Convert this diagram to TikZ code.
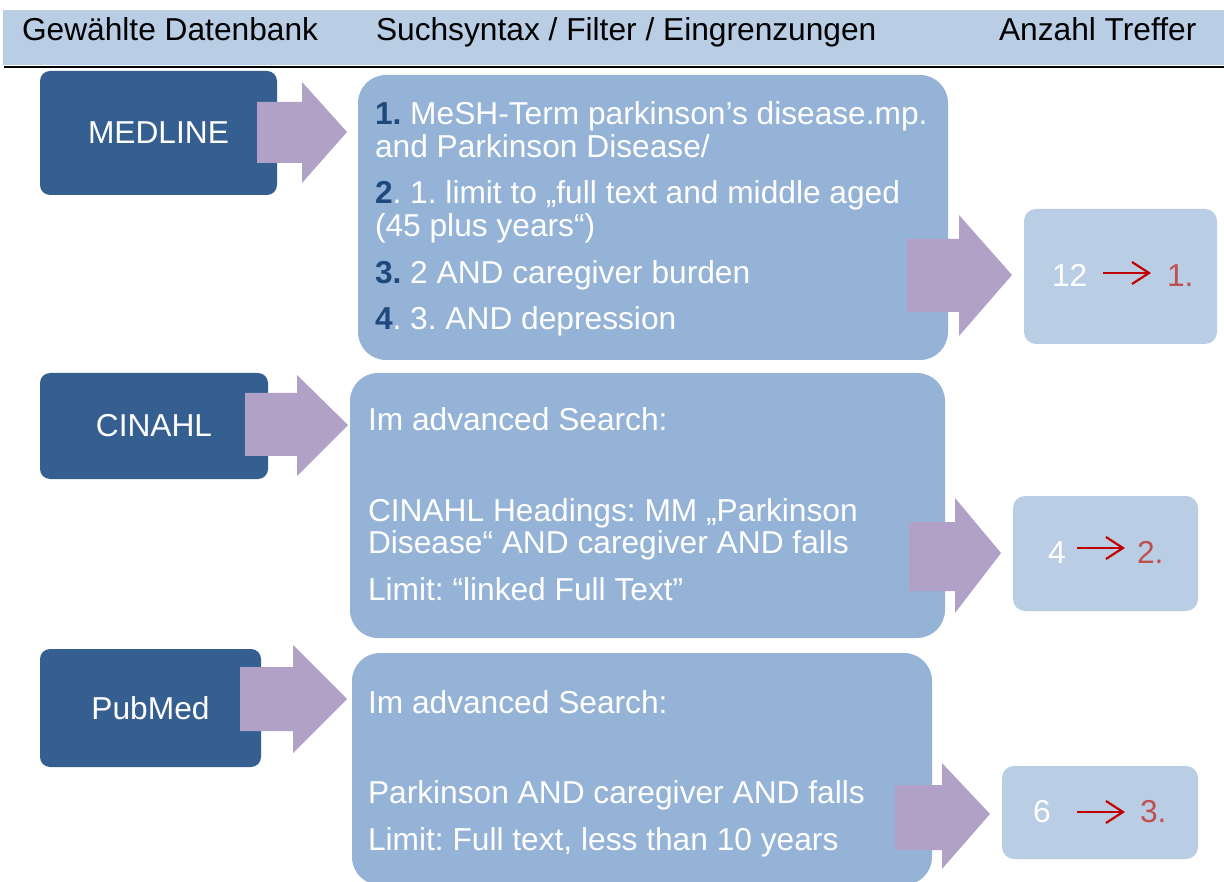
\documentclass[tikz,border=0pt]{standalone}
\usepackage{fontspec}
\setmainfont{Liberation Sans}
\usetikzlibrary{arrows.meta}
\definecolor{hdr}{HTML}{B9CDE5}
\definecolor{dbblue}{HTML}{365F91}
\definecolor{lav}{HTML}{B2A1C7}
\definecolor{qbox}{HTML}{95B3D7}
\definecolor{rbox}{HTML}{B9CDE5}
\definecolor{numblue}{HTML}{1F497D}
\definecolor{arrred}{HTML}{C00000}
\definecolor{resred}{HTML}{C0504D}
\newcommand{\nb}[1]{\textbf{\color{numblue}#1}}
\frenchspacing
\begin{document}
\begin{tikzpicture}[x=1pt,y=-1pt,
  txt/.style={anchor=base west, inner sep=0pt, outer sep=0pt, font=\fontsize{31.7}{36}\selectfont\frenchspacing, text=white},
  hdrtxt/.style={txt, text=black},
  dbbox/.style={fill=dbblue, rounded corners=10pt, inner sep=0pt, text=white, font=\fontsize{31.7}{36}\selectfont},
  qboxst/.style={fill=qbox, rounded corners=28pt, inner sep=0pt},
  rboxst/.style={fill=rbox, rounded corners=12pt, inner sep=0pt},
  blockarrow/.style={fill=lav},
  resarrow/.style={draw=arrred, line width=2.2pt, -{Straight Barb[length=17pt,width=22pt]}},
  restxt/.style={txt, text=resred}
]
\useasboundingbox (0,0) rectangle (1224,882);
\fill[white] (0,0) rectangle (1224,882);
% header
\fill[hdr] (3,10) rectangle (1224,65);
\draw[line width=2pt] (4,67) -- (1224,67);
\node[hdrtxt] (h1) at (22,41) {Gewählte Datenbank};
\node[hdrtxt] (h2) at (376,41) {Suchsyntax / Filter / Eingrenzungen};
\node[hdrtxt] (h3) at (999,41) {Anzahl Treffer};

% database boxes
\node[dbbox, minimum width=237pt, minimum height=124pt] (medline) at (158.5,133) {MEDLINE};
\node[dbbox, minimum width=228pt, minimum height=106pt] (cinahl) at (154,426) {CINAHL};
\node[dbbox, minimum width=221pt, minimum height=118pt] (pubmed) at (150.5,708) {PubMed};

% query boxes
\node[qboxst, minimum width=590pt, minimum height=285pt] (q1) at (653,217.5) {};
\node[qboxst, minimum width=595pt, minimum height=265pt] (q2) at (647.5,505.5) {};
\node[qboxst, minimum width=580pt, minimum height=232pt] (q3) at (642,769) {};

% result boxes
\node[rboxst, minimum width=193pt, minimum height=135pt] (r1) at (1120.5,276.5) {};
\node[rboxst, minimum width=185pt, minimum height=115pt] (r2) at (1105.5,553.5) {};
\node[rboxst, minimum width=196pt, minimum height=93pt] (r3) at (1100,812.5) {};

% block arrows
\fill[blockarrow] (257,102) -- (302,102) -- (302,82) -- (347,132) -- (302,183) -- (302,163) -- (257,163) -- cycle;
\fill[blockarrow] (245,393) -- (297,393) -- (297,375) -- (348,425) -- (297,476) -- (297,456) -- (245,456) -- cycle;
\fill[blockarrow] (240,667) -- (293,667) -- (293,645) -- (347,699) -- (293,753) -- (293,731) -- (240,731) -- cycle;
\fill[blockarrow] (907,239) -- (959,239) -- (959,215) -- (1012,275) -- (959,336) -- (959,312) -- (907,312) -- cycle;
\fill[blockarrow] (909,522) -- (955,522) -- (955,498) -- (1001,553) -- (955,613) -- (955,591) -- (909,591) -- cycle;
\fill[blockarrow] (895,785) -- (942,785) -- (942,763) -- (990,814) -- (942,869) -- (942,850) -- (895,850) -- cycle;

% query texts
\node[txt] (q1a) at (375,125) {\nb{1.} MeSH-Term parkinson’s disease.mp.};
\node[txt] (q1b) at (375,158) {and Parkinson Disease/};
\node[txt] (q1c) at (375,204) {\nb{2}. 1. limit to „full text and middle aged};
\node[txt] (q1d) at (375,237) {(45 plus years“)};
\node[txt] (q1e) at (375,284) {\nb{3.} 2 AND caregiver burden};
\node[txt] (q1f) at (375,330) {\nb{4}. 3. AND depression};

\node[txt] (q2a) at (368,431) {Im advanced Search:};
\node[txt] (q2b) at (368,521) {CINAHL Headings: MM „Parkinson};
\node[txt] (q2c) at (368,553) {Disease“ AND caregiver AND falls};
\node[txt] (q2d) at (368,600) {Limit: “linked Full Text”};

\node[txt] (q3a) at (368,713) {Im advanced Search:};
\node[txt] (q3b) at (368,803) {Parkinson AND caregiver AND falls};
\node[txt] (q3c) at (368,850) {Limit: Full text, less than 10 years};

% results
\node[txt] (n1) at (1052,287) {12};
\coordinate (a1s) at (1103,273);
\coordinate (a1e) at (1151,273);
\draw[resarrow] (a1s) -- (a1e);
\node[restxt] (m1) at (1167,287) {1.};

\node[txt] (n2) at (1048,563) {4};
\coordinate (a2s) at (1077,548);
\coordinate (a2e) at (1125,548);
\draw[resarrow] (a2s) -- (a2e);
\node[restxt] (m2) at (1137,563) {2.};

\node[txt] (n3) at (1033,822) {6};
\coordinate (a3s) at (1077,812);
\coordinate (a3e) at (1125,812);
\draw[resarrow] (a3s) -- (a3e);
\node[restxt] (m3) at (1140,822) {3.};
\end{tikzpicture}
\end{document}
